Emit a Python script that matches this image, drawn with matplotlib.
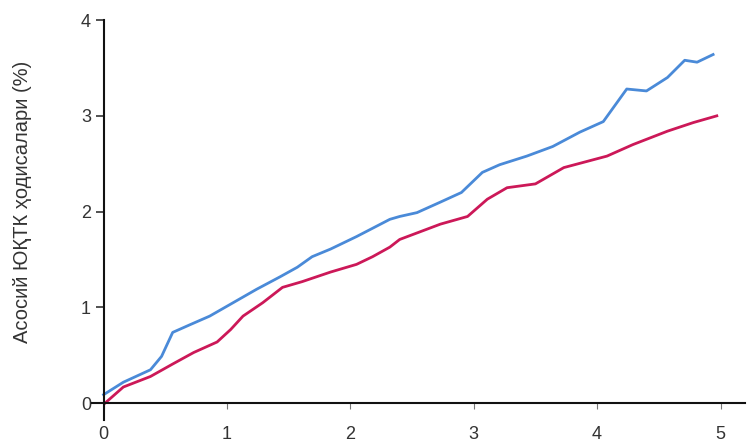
import matplotlib
matplotlib.use("Agg")
import matplotlib.pyplot as plt

# years of follow-up vs. cumulative event rate (%)
blue_x = [0.0, 0.16, 0.38, 0.47, 0.56, 0.70, 0.86, 1.05, 1.24, 1.43, 1.57, 1.69, 1.84,
          2.05, 2.32, 2.40, 2.54, 2.73, 2.90, 3.07, 3.21, 3.43, 3.64, 3.86, 4.05,
          4.24, 4.40, 4.57, 4.71, 4.81, 4.94]
blue_y = [0.09, 0.22, 0.35, 0.49, 0.74, 0.82, 0.91, 1.05, 1.19, 1.32, 1.42, 1.53, 1.61,
          1.74, 1.92, 1.95, 1.99, 2.10, 2.20, 2.41, 2.49, 2.58, 2.68, 2.83, 2.94,
          3.28, 3.26, 3.40, 3.58, 3.56, 3.64]

red_x = [0.01, 0.16, 0.38, 0.56, 0.73, 0.92, 1.03, 1.13, 1.29, 1.45, 1.61, 1.84, 2.05,
         2.18, 2.32, 2.40, 2.73, 2.95, 3.11, 3.27, 3.50, 3.73, 4.08, 4.29, 4.57,
         4.78, 4.97]
red_y = [0.0, 0.17, 0.28, 0.41, 0.53, 0.64, 0.77, 0.91, 1.05, 1.21, 1.27, 1.37, 1.45,
         1.53, 1.63, 1.71, 1.87, 1.95, 2.13, 2.25, 2.29, 2.46, 2.58, 2.70, 2.84,
         2.93, 3.00]

x_ticks = [0, 1, 2, 3, 4, 5]
y_ticks = [0, 1, 2, 3, 4]
ylabel = "Асосий ЮҚТК ҳодисалари (%)"

plt.rcParams['font.family'] = ['Liberation Sans', 'DejaVu Sans']

fig = plt.figure(figsize=(7.55, 4.45), dpi=100)
ax = fig.add_axes([0.122, 0.056, 0.865, 0.899])

ax.plot(blue_x, blue_y, color="#4a8ad8", lw=2.0, solid_joinstyle='round')
ax.plot(red_x, red_y, color="#cc1858", lw=2.0, solid_joinstyle='round')

ax.set_xlim(-0.093, 5.2)
ax.set_ylim(-0.175, 4.0)

ax.spines['left'].set_position(('data', 0))
ax.spines['bottom'].set_position(('data', 0))
ax.spines['right'].set_visible(False)
ax.spines['top'].set_visible(False)
for s in ('left', 'bottom'):
    ax.spines[s].set_linewidth(1.5)
    ax.spines[s].set_color('#111111')

ax.set_xticks(x_ticks)
ax.set_yticks(y_ticks)
ax.tick_params(axis='x', direction='out', length=4, width=0.8, color='#777777',
               pad=12, labelsize=13, labelcolor='#333333')
ax.tick_params(axis='y', direction='out', length=6, width=1.2, color='#333333',
               pad=3, labelsize=13, labelcolor='#333333')

fig.text(0.030, 0.546, ylabel, rotation=90, ha='center', va='center',
         fontsize=14.5, color='#333333')

fig.savefig("out.png", dpi=100)
